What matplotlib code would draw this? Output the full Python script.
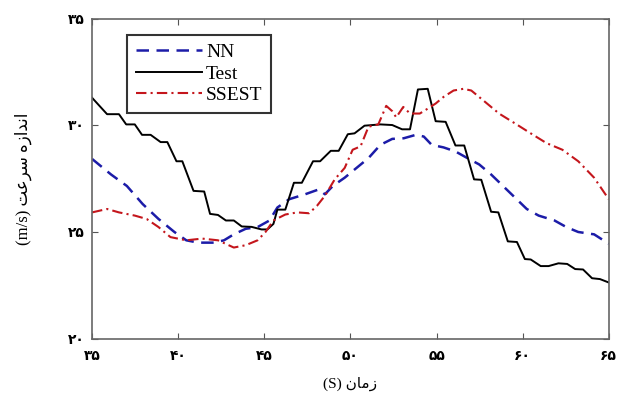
import numpy as np
import matplotlib
matplotlib.use('Agg')
import matplotlib.pyplot as plt

# Test (measured, step-like)
t_x = [35.0, 35.87, 36.56, 36.98, 37.48, 37.90, 38.40, 38.98, 39.37, 39.90, 40.24, 40.89, 41.51,
       41.85, 42.31, 42.77, 43.23, 43.69, 44.26, 44.84, 45.18, 45.53, 45.76, 46.22, 46.72, 47.18,
       47.83, 48.24, 48.86, 49.32, 49.85, 50.24, 50.82, 51.74, 52.43, 53.0, 53.46, 53.92, 54.49,
       54.95, 55.53, 56.10, 56.61, 57.18, 57.60, 58.17, 58.59, 59.14, 59.67, 60.13, 60.47, 61.05,
       61.51, 62.08, 62.59, 63.05, 63.51, 64.03, 64.49, 65.0]
t_y = [31.30, 30.53, 30.53, 30.05, 30.05, 29.56, 29.56, 29.22, 29.22, 28.32, 28.32, 26.93, 26.90,
       25.85, 25.80, 25.54, 25.54, 25.26, 25.24, 25.12, 25.12, 25.38, 26.05, 26.05, 27.31, 27.31,
       28.32, 28.32, 28.81, 28.81, 29.59, 29.63, 29.99, 30.05, 30.02, 29.82, 29.82, 31.69, 31.72,
       30.20, 30.17, 29.06, 29.06, 27.47, 27.45, 25.95, 25.92, 24.56, 24.53, 23.73, 23.71, 23.40,
       23.40, 23.53, 23.50, 23.26, 23.24, 22.83, 22.79, 22.63]

# NN
nn_x = [35.0, 36.1, 37.02, 37.94, 38.86, 39.78, 40.47, 41.16, 42.08, 42.66, 43.23, 43.92, 44.61,
        45.3, 45.76, 46.45, 47.37, 48.17, 48.52, 48.98, 49.67, 50.36, 51.05, 51.74, 52.43, 53.1,
        53.8, 54.26, 54.72, 55.41, 56.1, 56.79, 57.48, 58.17, 58.86, 59.55, 60.24, 60.93, 61.85,
        62.54, 63.23, 64.15, 65.0]
nn_y = [28.43, 27.70, 27.16, 26.31, 25.61, 25.0, 24.61, 24.5, 24.5, 24.61, 24.89, 25.15, 25.23,
        25.54, 26.15, 26.54, 26.77, 27.0, 26.77, 27.16, 27.55, 28.01, 28.47, 29.09, 29.37, 29.4,
        29.56, 29.48, 29.09, 28.97, 28.78, 28.47, 28.17, 27.7, 27.16, 26.62, 26.08, 25.77, 25.54,
        25.23, 25.0, 24.89, 24.45]

# SSEST
ss_x = [35.0, 35.87, 36.56, 37.48, 38.17, 38.86, 39.55, 40.47, 41.39, 42.31, 43.23, 43.92, 44.61,
        45.07, 45.53, 46.22, 46.91, 47.6, 48.06, 48.52, 49.09, 49.67, 50.13, 50.59, 51.05, 51.62,
        52.08, 52.43, 52.66, 53.07, 53.46, 54.03, 54.49, 54.95, 55.41, 55.99, 56.56, 57.02, 57.71,
        58.63, 59.55, 60.47, 61.39, 62.31, 63.23, 64.15, 65.0]
ss_y = [25.92, 26.08, 25.92, 25.77, 25.61, 25.23, 24.76, 24.61, 24.69, 24.61, 24.27, 24.38, 24.61,
        25.0, 25.54, 25.82, 25.92, 25.88, 26.23, 26.7, 27.47, 28.01, 28.86, 29.02, 29.94, 30.05,
        30.92, 30.67, 30.38, 30.87, 30.56, 30.56, 30.79, 31.03, 31.34, 31.64, 31.72, 31.64, 31.18,
        30.56, 30.10, 29.63, 29.17, 28.86, 28.32, 27.55, 26.54]

xticks = [35, 40, 45, 50, 55, 60, 65]
yticks = [20, 25, 30, 35]
fa_digits = '۰۱۲۳۴۵۶۷۸۹'

def fa(n):
    return ''.join(fa_digits[int(c)] for c in str(n))

# arabic text in presentation forms, visual order
xlab = '(S) ' + '\uFEE5\uFE8E\uFEE3\uFEAF'
ylab = '(m/s) ' + '\uFE96\uFECB\uFEAE\uFEB3' + ' ' + '\uFEE9\uFEAF\uFE8D\uFEAA\uFEE7\uFE8D'

fams = ['Liberation Serif', 'DejaVu Sans']

fig = plt.figure(figsize=(6.18, 4.03), dpi=100)
ax = fig.add_axes([0.149, 0.160, 0.836, 0.793])

ax.plot(nn_x, nn_y, color='#1c1ca8', ls=(0, (5, 3)), lw=1.8, label='NN')
ax.plot(t_x, t_y, color='black', ls='-', lw=1.4, label='Test')
ax.plot(ss_x, ss_y, color='#c4161c', ls=(0, (5, 2, 1, 2)), lw=1.5, label='SSEST')

ax.set_xlim(35, 65)
ax.set_ylim(20, 35)
ax.set_xticks(xticks)
ax.set_yticks(yticks)
ax.set_xticklabels([fa(v) for v in xticks], family=fams, fontweight='bold', fontsize=10)
ax.set_yticklabels([fa(v) for v in yticks], family=fams, fontweight='bold', fontsize=10)
ax.tick_params(direction='in', top=True, right=True, length=4, color='#555555')
ax.tick_params(axis='x', pad=8)
ax.tick_params(axis='y', pad=5)
for s in ax.spines.values():
    s.set_color('#666666')
    s.set_linewidth(1.2)

ax.set_xlabel(xlab, family=fams, fontsize=11, labelpad=10)
ax.set_ylabel(ylab, family=fams, fontsize=12, labelpad=26)

leg = ax.legend(loc='upper left', bbox_to_anchor=(0.068, 0.95), borderaxespad=0,
                prop={'family': 'Liberation Serif', 'size': 14},
                handlelength=3.4, handletextpad=0.2, labelspacing=0.2, borderpad=0.45,
                fancybox=False, framealpha=1)
leg.get_frame().set_edgecolor('#333333')
leg.get_frame().set_linewidth(1.5)

fig.savefig('out.png', dpi=100)
